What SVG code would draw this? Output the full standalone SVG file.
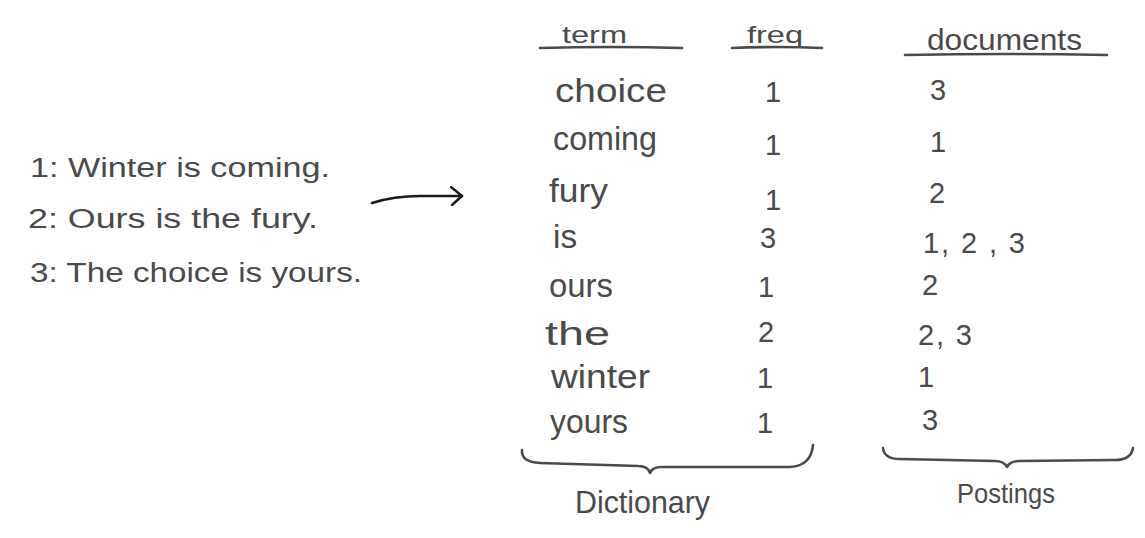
<svg xmlns="http://www.w3.org/2000/svg" width="1145" height="538" viewBox="0 0 1145 538">
<style>
  text { font-family: "Liberation Sans", "DejaVu Sans", sans-serif; fill: #4a4a4a; }
  .src { font-size: 27px; }
  .hdr { font-size: 24px; }
  .term { font-size: 33px; }
  .num { font-size: 29px; }
  .lbl { font-size: 32px; }
  .ink { fill: none; stroke: #4a4a4a; stroke-width: 2.6; stroke-linecap: round; stroke-linejoin: round; }
</style>
<defs>
  <marker id="chev" viewBox="0 0 14 20" refX="12" refY="10" markerWidth="14" markerHeight="20" markerUnits="userSpaceOnUse" orient="auto">
    <polyline points="1,1 12,10 2,19" fill="none" stroke="#1a1a1a" stroke-width="2.4" stroke-linecap="round" stroke-linejoin="round"/>
  </marker>
</defs>
<rect width="1145" height="538" fill="#ffffff"/>

<g id="documents-source">
  <text class="src" x="30" y="177" textLength="300" lengthAdjust="spacingAndGlyphs">1: Winter is coming.</text>
  <text class="src" x="28" y="228" textLength="290" lengthAdjust="spacingAndGlyphs">2: Ours is the fury.</text>
  <text class="src" x="30" y="282" textLength="332" lengthAdjust="spacingAndGlyphs">3: The choice is yours.</text>
</g>

<g id="connectors">
  <path d="M372 203 Q394 196 420 196 L462 196" fill="none" stroke="#1a1a1a" stroke-width="2.6" stroke-linecap="round" marker-end="url(#chev)"/>
</g>

<g id="dictionary">
  <text class="hdr" x="562" y="43" textLength="65" lengthAdjust="spacingAndGlyphs">term</text>
  <path class="ink" d="M540 48 Q610 46 682 48"/>
  <text class="hdr" x="747" y="43" textLength="56" lengthAdjust="spacingAndGlyphs">freq</text>
  <path class="ink" d="M732 48 Q777 46 822 48"/>

  <text class="term" x="555" y="102" textLength="112" lengthAdjust="spacingAndGlyphs">choice</text>
  <text class="term" x="553" y="150" textLength="104" lengthAdjust="spacingAndGlyphs">coming</text>
  <text class="term" x="549" y="202" textLength="59" lengthAdjust="spacingAndGlyphs">fury</text>
  <text class="term" x="553" y="248" textLength="24" lengthAdjust="spacingAndGlyphs">is</text>
  <text class="term" x="549" y="297" textLength="64" lengthAdjust="spacingAndGlyphs">ours</text>
  <text class="term" x="545" y="345" textLength="65" lengthAdjust="spacingAndGlyphs">the</text>
  <text class="term" x="551" y="388" textLength="99" lengthAdjust="spacingAndGlyphs">winter</text>
  <text class="term" x="550" y="433" textLength="78" lengthAdjust="spacingAndGlyphs">yours</text>

  <text class="num" x="773" y="102" text-anchor="middle">1</text>
  <text class="num" x="773" y="155" text-anchor="middle">1</text>
  <text class="num" x="773" y="210" text-anchor="middle">1</text>
  <text class="num" x="768" y="248" text-anchor="middle">3</text>
  <text class="num" x="766" y="297" text-anchor="middle">1</text>
  <text class="num" x="766" y="342" text-anchor="middle">2</text>
  <text class="num" x="765" y="388" text-anchor="middle">1</text>
  <text class="num" x="765" y="433" text-anchor="middle">1</text>

  <path class="ink" d="M522 450 Q521 462 540 463 L638 466 Q648 466 650 473 Q652 467 662 467 L790 467 Q811 466 813 445"/>
  <text class="lbl" x="575" y="513" textLength="135" lengthAdjust="spacingAndGlyphs">Dictionary</text>
</g>

<g id="postings">
  <text class="hdr" x="927" y="50" style="font-size:30px" textLength="155" lengthAdjust="spacingAndGlyphs">documents</text>
  <path class="ink" d="M905 55 Q1006 53 1107 55"/>

  <text class="num" x="930" y="100">3</text>
  <text class="num" x="930" y="152">1</text>
  <text class="num" x="929" y="203">2</text>
  <text class="num" x="923" y="253" textLength="102" lengthAdjust="spacing">1, 2 , 3</text>
  <text class="num" x="922" y="295">2</text>
  <text class="num" x="918" y="345" textLength="54" lengthAdjust="spacing">2, 3</text>
  <text class="num" x="918" y="387">1</text>
  <text class="num" x="922" y="430">3</text>

  <path class="ink" d="M883 448 Q884 459 900 459 L995 461 Q1004 461 1007 467 Q1010 461 1020 461 L1115 460 Q1131 460 1133 448"/>
  <text class="lbl" x="957" y="503" style="font-size:28px" textLength="98" lengthAdjust="spacingAndGlyphs">Postings</text>
</g>
</svg>
